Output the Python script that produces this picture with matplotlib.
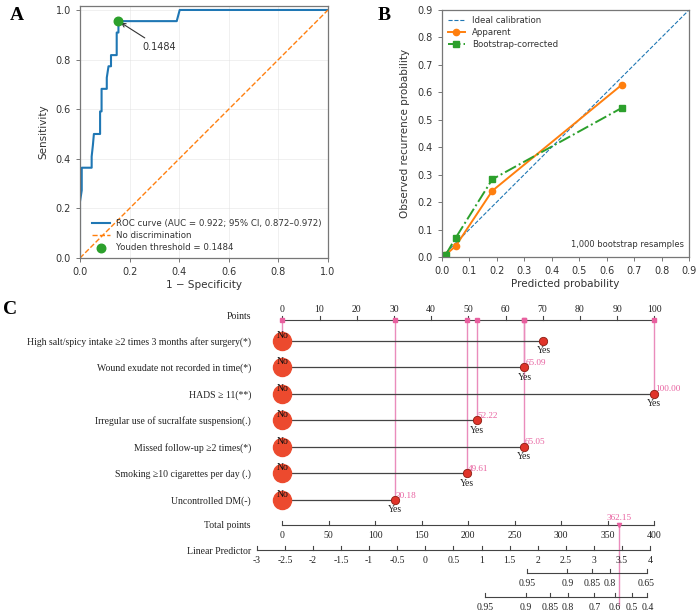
import numpy as np
import matplotlib.pyplot as plt

# ---- panel A: ROC ----
roc_fpr = [0.000, 0.000, 0.007, 0.007, 0.047, 0.047, 0.052, 0.056, 0.081, 0.081, 0.087, 0.087,
           0.108, 0.108, 0.115, 0.125, 0.125, 0.148, 0.148, 0.155, 0.155, 0.390, 0.402, 1.000]
roc_tpr = [0.000, 0.227, 0.273, 0.364, 0.364, 0.409, 0.455, 0.500, 0.500, 0.591, 0.591, 0.682,
           0.682, 0.727, 0.773, 0.773, 0.818, 0.818, 0.909, 0.909, 0.955, 0.955, 1.000, 1.000]
youden_fpr = 0.155
youden_tpr = 0.955
youden_thr = 0.1484

# ---- panel B: calibration ----
pred_prob = [0.012, 0.051, 0.184, 0.655]
apparent = [0.006, 0.040, 0.241, 0.627]
boot_pred = [0.015, 0.051, 0.184, 0.655]
boot_corrected = [0.009, 0.070, 0.283, 0.543]

# ---- panel C: nomogram ----
var_names = ['High salt/spicy intake \u22652 times 3 months after surgery(*)',
             'Wound exudate not recorded in time(*)',
             'HADS \u2265 11(**)',
             'Irregular use of sucralfate suspension(.)',
             'Missed follow-up \u22652 times(*)',
             'Smoking \u226510 cigarettes per day (.)',
             'Uncontrolled DM(-)']
yes_points = [70.2, 65.09, 100.00, 52.22, 65.05, 49.61, 30.18]
patient_yes = [False, True, True, True, True, True, True]
points_ticks = list(range(0, 101, 10))
total_ticks = list(range(0, 401, 50))
lp_ticks = [-3, -2.5, -2, -1.5, -1, -0.5, 0, 0.5, 1, 1.5, 2, 2.5, 3, 3.5, 4]
lp_at_zero = -2.545     # linear predictor at 0 total points
lp_per_point = 0.01655  # linear predictor per total point
surv1_ticks = [0.95, 0.9, 0.85, 0.8, 0.65]
surv1_shift = 4.78
surv2_ticks = [0.95, 0.9, 0.85, 0.8, 0.7, 0.6, 0.5, 0.4]
surv2_shift = 4.04

W, H = 700, 613
fig = plt.figure(figsize=(W / 100, H / 100), dpi=100)

def px_axes(x0, y0, x1, y1):
    return fig.add_axes([x0 / W, 1 - y1 / H, (x1 - x0) / W, (y1 - y0) / H])

spine_c = '#777777'
tick_c = '#333333'

def style_ax(ax):
    for s in ax.spines.values():
        s.set_color(spine_c)
        s.set_linewidth(0.9)
    ax.tick_params(labelsize=7, colors=spine_c, labelcolor=tick_c, length=3, width=0.7)

# A
axA = px_axes(80, 6, 328, 258)
axA.plot(roc_fpr, roc_tpr, color='tab:blue', lw=1.5,
         label='ROC curve (AUC = 0.922; 95% CI, 0.872\u20130.972)')
axA.plot([0, 1], [0, 1], ls='--', color='tab:orange', lw=1.0, label='No discrimination')
axA.scatter([youden_fpr], [youden_tpr], s=38, color='tab:green', zorder=5,
            label='Youden threshold = %.4f' % youden_thr)
axA.annotate('%.4f' % youden_thr, xy=(youden_fpr, youden_tpr), xytext=(0.252, 0.85),
             fontsize=7, color='#333333', va='center',
             arrowprops=dict(arrowstyle='->', color='#333333', lw=0.8))
axA.set_xlim(0, 1)
axA.set_ylim(0, 1.016)
axA.set_xticks(np.arange(0, 1.01, 0.2))
axA.set_yticks(np.arange(0, 1.01, 0.2))
axA.grid(True, color='#dddddd', lw=0.5, alpha=0.6)
axA.set_xlabel('1 \u2212 Specificity', fontsize=7.5, color=tick_c, labelpad=2)
axA.set_ylabel('Sensitivity', fontsize=7.5, color=tick_c, labelpad=5)
style_ax(axA)
axA.legend(loc='lower right', fontsize=6.2, frameon=False, handlelength=2.0,
           borderaxespad=0.3, labelspacing=0.35, labelcolor=tick_c)

# B
axB = px_axes(441.7, 10, 689, 257)
axB.plot([0, 0.9], [0, 0.9], ls='--', color='tab:blue', lw=0.8, label='Ideal calibration')
axB.plot(pred_prob, apparent, '-o', color='tab:orange', lw=1.4, ms=4.5, label='Apparent')
axB.plot(boot_pred, boot_corrected, '-.s', color='tab:green', lw=1.4, ms=4.5,
         label='Bootstrap-corrected')
axB.text(0.88, 0.035, '1,000 bootstrap resamples', fontsize=6, color=tick_c, ha='right')
axB.set_xlim(0, 0.9)
axB.set_ylim(0, 0.9)
axB.set_xticks(np.arange(0, 0.91, 0.1))
axB.set_yticks(np.arange(0, 0.91, 0.1))
axB.set_xlabel('Predicted probability', fontsize=7.5, color=tick_c, labelpad=2)
axB.set_ylabel('Observed recurrence probability', fontsize=7.5, color=tick_c, labelpad=5)
style_ax(axB)
axB.legend(loc='upper left', fontsize=6.2, frameon=False, handlelength=2.0,
           borderaxespad=0.3, labelspacing=0.35, labelcolor=tick_c)

# panel letters
serif = ['Liberation Serif', 'DejaVu Serif']
fig.text(10 / W, 1 - 16 / H, 'A', family=serif, weight='bold', fontsize=14, va='center')
fig.text(378 / W, 1 - 16 / H, 'B', family=serif, weight='bold', fontsize=14, va='center')
fig.text(3 / W, 1 - 310 / H, 'C', family=serif, weight='bold', fontsize=14, va='center')

# C  (x in points units, y in figure pixels)
axC = fig.add_axes([0, 0, 1, 313 / H])
px_per_pt = 3.72
x0_px = 282.3
axC.set_xlim(-x0_px / px_per_pt, (W - x0_px) / px_per_pt)
axC.set_ylim(H, 300)
axC.axis('off')

line_c = '#444444'
pink = '#e8609f'
pink_line = '#ea8cbc'
red_big = '#ec4a2e'
red_small = '#e0342a'
fs = 7.0
label_x = (251 - x0_px) / px_per_pt

def total_to_x(t):
    return np.asarray(t, dtype=float) / 4.0

def lp_to_x(lp):
    return total_to_x((np.asarray(lp, dtype=float) - lp_at_zero) / lp_per_point)

def surv_to_x(s, shift):
    return lp_to_x(np.log(-np.log(np.asarray(s, dtype=float))) + shift)

def scale(xs, labels, y, above=False, tlen=4):
    xs = np.asarray(xs, dtype=float)
    axC.plot([xs.min(), xs.max()], [y, y], color=line_c, lw=0.8)
    for xv, lab in zip(xs, labels):
        axC.plot([xv, xv], [y, y - tlen], color=line_c, lw=0.8)
        ty = y - 11 if above else y + 10.5
        axC.text(xv, ty, lab, family=serif, fontsize=fs, ha='center', va='center',
                 color='#222222')

def fmt(v):
    return ('%g' % v)

points_y = 320
scale(points_ticks, [fmt(v) for v in points_ticks], points_y, above=True)
axC.text(label_x, points_y - 4, 'Points', family=serif, fontsize=fs, ha='right',
         va='center', color='#222222')

row_y = [340.7 + 26.55 * i for i in range(len(var_names))]
patient_pts = []
for i, (name, yp, sel) in enumerate(zip(var_names, yes_points, patient_yes)):
    y = row_y[i]
    axC.text(label_x, y + 1, name, family=serif, fontsize=fs, ha='right', va='center',
             color='#222222')
    axC.plot([0, yp], [y, y], color=line_c, lw=0.9, zorder=2)
    px = yp if sel else 0.0
    patient_pts.append(px)
    axC.plot([px, px], [points_y, y], color=pink_line, lw=1.0, zorder=1)
    axC.plot([px], [points_y], marker='s', ms=2.2, color=pink, zorder=3)
    if sel:
        axC.text(px + 0.2, y - 4.5, '%.2f' % yp, family=serif, fontsize=6.6, color=pink,
                 ha='left', va='center', zorder=3)
    axC.plot([0], [y], 'o', ms=13, color=red_big, zorder=4)
    axC.plot([yp], [y], 'o', ms=6, color=red_small, mec='#8a1d12', mew=0.6, zorder=4)
    axC.text(0.1, y - 5.5, 'No', family=serif, fontsize=fs, ha='center', va='center',
             color='#111111', zorder=5)
    axC.text(yp, y + 10, 'Yes', family=serif, fontsize=fs, ha='center', va='center',
             color='#222222', zorder=5)

total_y = 525
lp_y = 550
s1_y = 573.3
s2_y = 597.3
scale(total_to_x(total_ticks), [fmt(v) for v in total_ticks], total_y)
axC.text(label_x, total_y + 1, 'Total points', family=serif, fontsize=fs, ha='right',
         va='center', color='#222222')
scale(lp_to_x(lp_ticks), [fmt(v) for v in lp_ticks], lp_y)
axC.text(label_x, lp_y + 1, 'Linear Predictor', family=serif, fontsize=fs, ha='right',
         va='center', color='#222222')
scale(surv_to_x(surv1_ticks, surv1_shift), [fmt(v) for v in surv1_ticks], s1_y)
scale(surv_to_x(surv2_ticks, surv2_shift), [fmt(v) for v in surv2_ticks], s2_y)

total_score = sum(patient_pts)
tx = total_to_x(total_score)
axC.plot([tx, tx], [total_y, s2_y + 8], color=pink_line, lw=1.0, zorder=1)
axC.plot([tx], [total_y], marker='v', ms=3, color=pink, zorder=3)
axC.text(tx, total_y - 7, '%.2f' % total_score, family=serif, fontsize=6.6, color=pink,
         ha='center', va='center')

fig.savefig('out.png', dpi=100)
